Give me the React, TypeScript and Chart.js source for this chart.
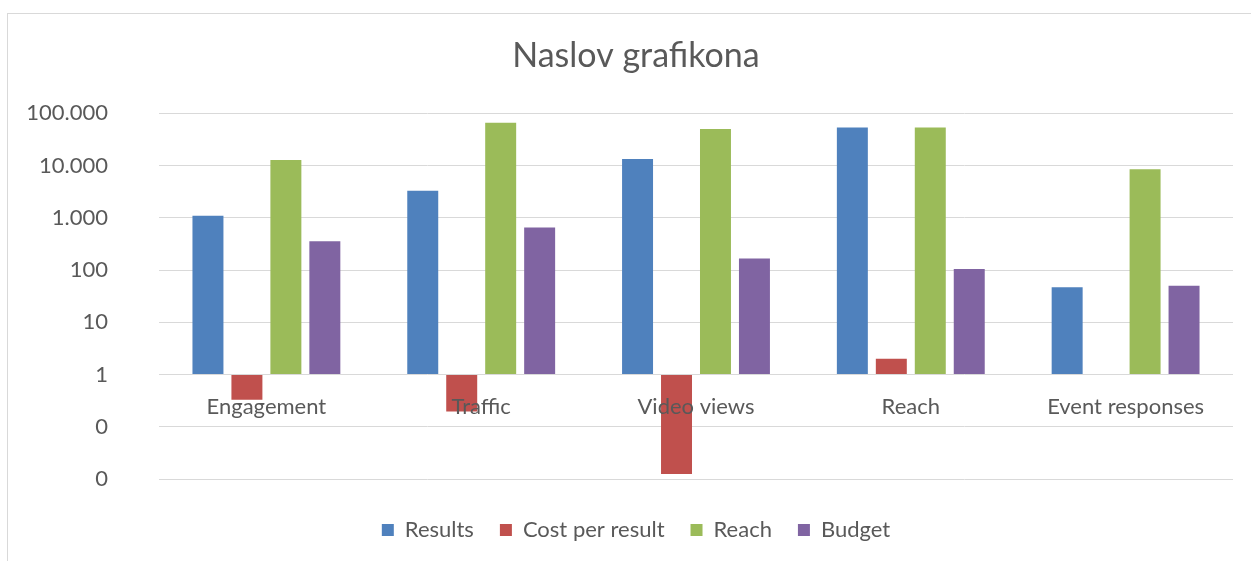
import React, { useEffect, useRef } from "react";
import { Chart, registerables } from "chart.js";

Chart.register(...registerables);

const categories = ["Engagement", "Traffic", "Video views", "Reach", "Event responses"];
const results = [1090, 3280, 13400, 53300, 47];
const costPerResult = [0.33, 0.196, 0.0124, 2.0, null];
const reach = [12700, 65600, 49800, 53300, 8530];
const budget = [357, 650, 166, 105, 50];
const yTickValues = [0.01, 0.1, 1, 10, 100, 1000, 10000, 100000];
const yTickLabels = ["0", "0", "1", "10", "100", "1.000", "10.000", "100.000"];
const chartTitle = "Naslov grafikona";

const FONT = "Lato";
const TEXT = "#595959";
const GRID = "#d9d9d9";

export default function App() {
  const ref = useRef<HTMLCanvasElement | null>(null);

  useEffect(() => {
    if (!ref.current) return;
    const mk = (label: string, data: (number | null)[], color: string) => ({
      label,
      data,
      backgroundColor: color,
      borderWidth: 0,
      base: 1,
      categoryPercentage: 0.7256,
      barPercentage: 0.795,
    });
    const chart = new Chart(ref.current, {
      type: "bar",
      data: {
        labels: categories,
        datasets: [
          mk("Results", results, "#4f81bd"),
          mk("Cost per result", costPerResult, "#c0504d"),
          mk("Reach", reach, "#9bbb59"),
          mk("Budget", budget, "#8064a2"),
        ] as any,
      },
      options: {
        animation: false,
        responsive: false,
        layout: { padding: { left: 39, right: 18, top: 0, bottom: 10 } },
        plugins: {
          title: {
            display: true,
            text: chartTitle,
            color: TEXT,
            font: { family: FONT, size: 34, weight: "normal" },
            padding: { top: 35.6, bottom: 36.9 },
          },
          legend: {
            position: "bottom",
            labels: {
              color: TEXT,
              font: { family: FONT, size: 22 },
              boxWidth: 12,
              boxHeight: 12,
              padding: 26,
            },
          },
          tooltip: { enabled: false },
        },
        scales: {
          x: {
            type: "category",
            position: { y: 1 } as any,
            grid: { display: false },
            border: { display: false },
            ticks: {
              z: 1,
              color: TEXT,
              font: { family: FONT, size: 22 },
              padding: 11,
              maxRotation: 0,
              autoSkip: false,
            },
          },
          gap: {
            type: "category",
            axis: "x",
            position: "bottom",
            grid: { display: false },
            border: { display: false },
            ticks: { display: false },
            afterFit: (s: any) => {
              s.height = 14;
            },
          } as any,
          y: {
            type: "logarithmic",
            min: 0.01,
            max: 100000,
            grid: { color: GRID, lineWidth: 1, drawTicks: false },
            border: { display: false },
            afterBuildTicks: (s: any) => {
              s.ticks = yTickValues.map((v) => ({ value: v }));
            },
            afterFit: (s: any) => {
              s.width = 159 - 39;
              s._computeLabelArea = () => undefined;
            },
            ticks: {
              color: TEXT,
              font: { family: FONT, size: 22 },
              padding: 51,
              autoSkip: false,
              callback: (_v: any, i: number) => yTickLabels[i],
            },
          },
        },
      },
    });
    return () => chart.destroy();
  }, []);

  return (
    <div style={{ position: "fixed", left: 0, top: 0, width: 1251, height: 561, background: "#fff" }}>
      <div
        style={{
          position: "absolute",
          left: 7,
          top: 13,
          right: 0,
          bottom: 0,
          borderLeft: "1px solid " + GRID,
          borderTop: "1px solid " + GRID,
        }}
      />
      <canvas ref={ref} width={1251} height={561} style={{ position: "absolute", left: 0, top: 0 }} />
    </div>
  );
}
